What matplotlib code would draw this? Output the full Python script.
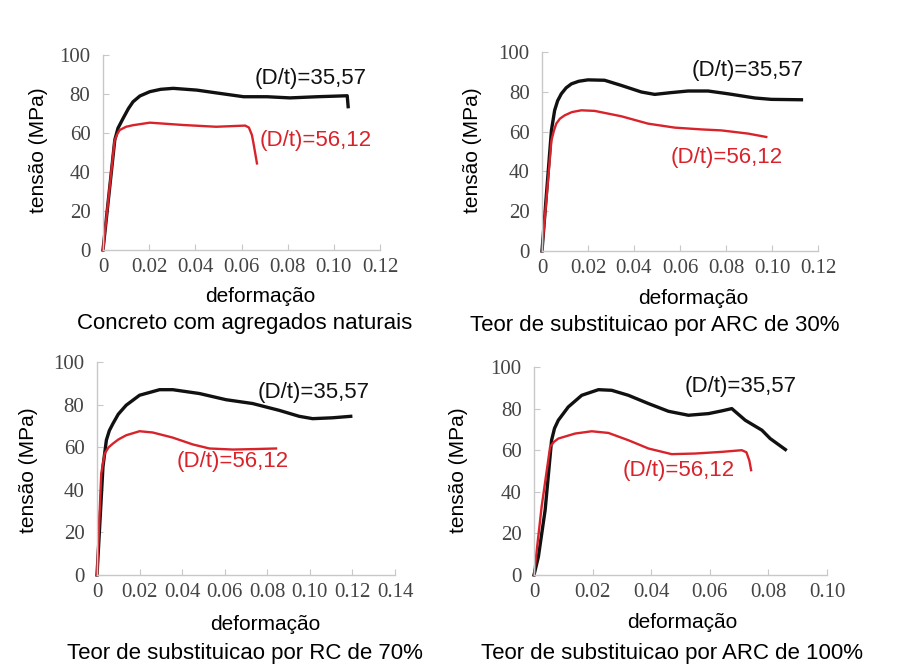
import matplotlib.pyplot as plt

# ---- data (strain, stress in MPa) ----
# Concreto com agregados naturais
nat_black_x = [0, 0.0051, 0.0065, 0.0087, 0.011, 0.013, 0.016, 0.0203, 0.025, 0.0304, 0.0406, 0.0507, 0.0609, 0.071, 0.081, 0.0928, 0.1058, 0.1062]
nat_black_y = [0, 56.4, 62.5, 67.5, 72.5, 76, 79, 81.2, 82.4, 82.9, 82, 80.3, 78.6, 78.6, 78, 78.6, 79.1, 73.5]
nat_red_x = [0, 0.005, 0.0062, 0.0072, 0.01, 0.013, 0.0203, 0.0348, 0.049, 0.0616, 0.0632, 0.0645, 0.0652, 0.0667]
nat_red_y = [0, 56, 59.5, 61.5, 63.2, 64, 65.3, 64.1, 63.2, 63.8, 62.8, 59, 54.7, 44.4]

# ARC 30%
a30_black_x = [0, 0.0041, 0.0055, 0.0068, 0.0084, 0.0105, 0.0128, 0.016, 0.02, 0.0272, 0.0345, 0.0432, 0.049, 0.0562, 0.0635, 0.0722, 0.0809, 0.0925, 0.0997, 0.1128]
a30_black_y = [0, 60.6, 70.7, 75.5, 79, 82, 84, 85.3, 86, 85.8, 83.2, 79.9, 78.7, 79.6, 80.4, 80.4, 79, 76.9, 76.2, 76]
a30_red_x = [0, 0.0041, 0.0052, 0.0062, 0.0078, 0.0099, 0.013, 0.0171, 0.0229, 0.0345, 0.0461, 0.0577, 0.0693, 0.078, 0.0896, 0.0975]
a30_red_y = [0, 55.6, 60.5, 64, 66.5, 68.2, 69.8, 70.7, 70.4, 67.7, 64, 62, 61.1, 60.6, 59, 57.3]

# RC 70%
r70_black_x = [0, 0.0028, 0.0044, 0.0058, 0.0075, 0.01, 0.0137, 0.02, 0.0294, 0.0356, 0.0481, 0.0606, 0.0731, 0.0856, 0.095, 0.1013, 0.1106, 0.1192]
r70_black_y = [0, 50.8, 63.3, 67.8, 71.1, 75.5, 79.7, 84.4, 87, 87, 85.2, 82.3, 80.5, 77.3, 74.5, 73.4, 73.8, 74.5]
r70_red_x = [0, 0.002, 0.0036, 0.0055, 0.0075, 0.01, 0.0137, 0.02, 0.0262, 0.0356, 0.045, 0.0528, 0.0638, 0.0731, 0.0841]
r70_red_y = [0, 47.7, 57, 60, 61.7, 63.6, 65.6, 67.5, 66.9, 64.5, 61.3, 59.4, 58.9, 59.1, 59.4]

# ARC 100%
a100_black_x = [0, 0.0015, 0.0038, 0.006, 0.007, 0.0083, 0.0117, 0.0163, 0.022, 0.0265, 0.0322, 0.0391, 0.0459, 0.0527, 0.0596, 0.0641, 0.0675, 0.0721, 0.0778, 0.0806, 0.0858]
a100_black_y = [0, 8.8, 31.2, 64.8, 70.5, 74.4, 80.8, 86.4, 89.1, 88.8, 86.4, 82.4, 78.7, 76.8, 77.6, 78.9, 80, 74.4, 69.6, 65.6, 60.3]
a100_red_x = [0, 0.0026, 0.0055, 0.0068, 0.0083, 0.014, 0.0197, 0.0254, 0.0322, 0.0391, 0.047, 0.055, 0.0641, 0.0709, 0.0725, 0.0735, 0.0741]
a100_red_y = [0, 32.8, 61.6, 64, 65.6, 68, 69.1, 68.3, 64.8, 60.8, 58.1, 58.4, 59.2, 60, 59, 55, 50.4]

titles = ["Concreto com agregados naturais", "Teor de substituicao por ARC de 30%",
          "Teor de substituicao por RC de 70%", "Teor de substituicao por ARC de 100%"]
label_black = "(D/t)=35,57"
label_red = "(D/t)=56,12"
xlims = [0.12, 0.12, 0.14, 0.10]
y_ticks = [0, 20, 40, 60, 80, 100]

W, H = 916, 666
RED = '#d9232b'
AXC = '#c8c8c8'
SANS = 'Liberation Sans'
SERIF = 'Liberation Serif'


def px(x, y):
    return x / W, 1 - y / H


fig = plt.figure(figsize=(W / 100, H / 100), dpi=100)

# axes boxes in pixels: left, right, y of 0, y of 100
boxes = [(103, 380, 250, 55), (542, 818, 251, 52), (97, 395, 575, 362), (534, 827, 575, 367)]
series = [
    (nat_black_x, nat_black_y, nat_red_x, nat_red_y),
    (a30_black_x, a30_black_y, a30_red_x, a30_red_y),
    (r70_black_x, r70_black_y, r70_red_x, r70_red_y),
    (a100_black_x, a100_black_y, a100_red_x, a100_red_y),
]
# text positions in data coords (black label, red label)
text_pos = [((0.090, 88), (0.092, 56.4)), ((0.0896, 90.8), (0.0801, 47.2)),
            ((0.102, 85.9), (0.0638, 53.1)), ((0.0704, 90.4), (0.0493, 50.4))]
# xlabel, ylabel, title positions in pixels
xlab_pos = [(260, 297), (693, 298), (265, 625), (682, 622)]
ylab_pos = [(38, 150), (473, 150), (28, 470), (459, 470)]
title_pos = [(245, 323), (655, 325), (245, 654), (672, 653)]

for i in range(4):
    l, r, y0, y1 = boxes[i]
    ax = fig.add_axes([l / W, 1 - y0 / H, (r - l) / W, (y0 - y1) / H])
    bx, by, rx, ry = series[i]
    ax.plot(bx, by, color='#111111', lw=2.4, clip_on=False, solid_joinstyle='round')
    ax.plot(rx, ry, color=RED, lw=1.7, clip_on=False, solid_joinstyle='round')
    ax.set_xlim(0, xlims[i])
    ax.set_ylim(0, 100)
    n = int(round(xlims[i] / 0.02))
    xt = [k * 0.02 for k in range(n + 1)]
    ax.set_xticks(xt)
    ax.set_xticklabels(['0'] + ['%.2f' % v for v in xt[1:]])
    ax.set_yticks(y_ticks)
    for s in ['top', 'right']:
        ax.spines[s].set_visible(False)
    for s in ['left', 'bottom']:
        ax.spines[s].set_color(AXC)
        ax.spines[s].set_linewidth(1.0)
    ax.tick_params(direction='in', length=4, color=AXC, labelcolor='#444444', labelsize=15)
    ax.tick_params(axis='y', pad=9)
    ax.tick_params(axis='x', pad=6)
    for lab in ax.get_xticklabels() + ax.get_yticklabels():
        lab.set_family(SERIF)
    (tbx, tby), (trx, try_) = text_pos[i]
    ax.text(tbx, tby, label_black, color='#111111', fontsize=16, family=SANS, ha='center', va='center')
    ax.text(trx, try_, label_red, color=RED, fontsize=16, family=SANS, ha='center', va='center')

    fig.text(*px(*xlab_pos[i]), "deformação", fontsize=15, family=SANS, ha='center', va='center')
    fig.text(*px(*ylab_pos[i]), "tensão (MPa)", fontsize=15, family=SANS, ha='center', va='center', rotation=90)
    fig.text(*px(*title_pos[i]), titles[i], fontsize=16, family=SANS, ha='center', va='center')

fig.savefig('out.png', dpi=100, facecolor='white')
